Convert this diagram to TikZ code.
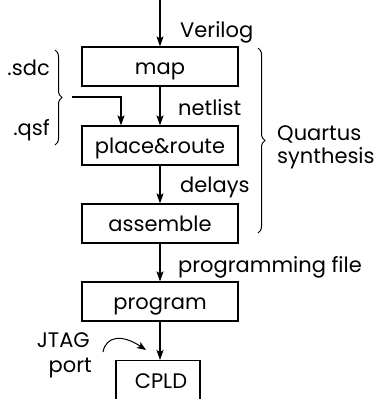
\documentclass[tikz,border=0pt]{standalone}
\usepackage{fontspec}
\setmainfont{Poppins}
\usetikzlibrary{arrows.meta,decorations.pathreplacing}

\begin{document}
\begin{tikzpicture}[x=1pt,y=-1pt,font=\fontsize{21}{23}\selectfont,
  stage/.style={draw,line width=1.2pt,minimum width=156pt,minimum height=39pt,inner sep=0pt,
    text height=15pt,text depth=0pt},
  flow/.style={line width=1.2pt,-{Stealth[length=10pt,width=7pt,inset=2pt]}},
  lbl/.style={anchor=base west,inner sep=0pt}]
\useasboundingbox (0,0) rectangle (380,399);
\begin{scope}
\clip (0,0) rectangle (380,399);
\node[stage] (map) at (160,66.5) {map};
\node[stage] (pr) at (160,145.5) {place\&route};
\node[stage] (asm) at (160,223.5) {assemble};
\node[stage] (prog) at (160,301.5) {program};
\node[draw,line width=1.2pt,minimum width=84pt,minimum height=50pt,anchor=north,inner sep=0pt] (cpld) at (158,360) {};
\node[anchor=base,inner sep=0pt] (cpldtxt) at (161,388) {CPLD};
\end{scope}
\coordinate (in) at (160,0);
\draw[flow] (in) -- (map);
\draw[flow] (map) -- (pr);
\draw[flow] (pr) -- (asm);
\draw[flow] (asm) -- (prog);
\draw[flow] (prog.south) -- (prog.south |- cpld.north);
% labels on the arrows
\node[lbl] (verilog) at (180,37) {Verilog};
\node[lbl] (netlist) at (178,115) {netlist};
\node[lbl] (delays) at (180,192) {delays};
\node[lbl] (pfile) at (178,272) {programming file};
% constraint files
\node[anchor=base east,inner sep=0pt] (sdc) at (50,75) {.sdc};
\node[anchor=base east,inner sep=0pt] (qsf) at (50,135) {.qsf};
\draw[line width=1pt,decorate,decoration={brace,amplitude=7pt}] (55,50) -- (55,145);
\coordinate (cstr) at (72,97);
\draw[flow] (cstr) -| (pr.north -| 121,0);
% quartus
\draw[line width=1pt,decorate,decoration={brace,amplitude=7pt}] (258,48) -- (258,233);
\node[lbl] (quartus) at (277,140) {Quartus};
\node[lbl] (synth) at (277,163) {synthesis};
% jtag
\node[anchor=base east,inner sep=0pt] (jtag) at (90,347) {JTAG};
\node[anchor=base east,inner sep=0pt] (port) at (92,372) {port};
\coordinate (jtip) at (146,350);
\draw[line width=1pt,-{Stealth[length=9pt,width=7pt,inset=2pt]}] (103,352) .. controls (106,336) and (122,334) .. (jtip);
\end{tikzpicture}
\end{document}
